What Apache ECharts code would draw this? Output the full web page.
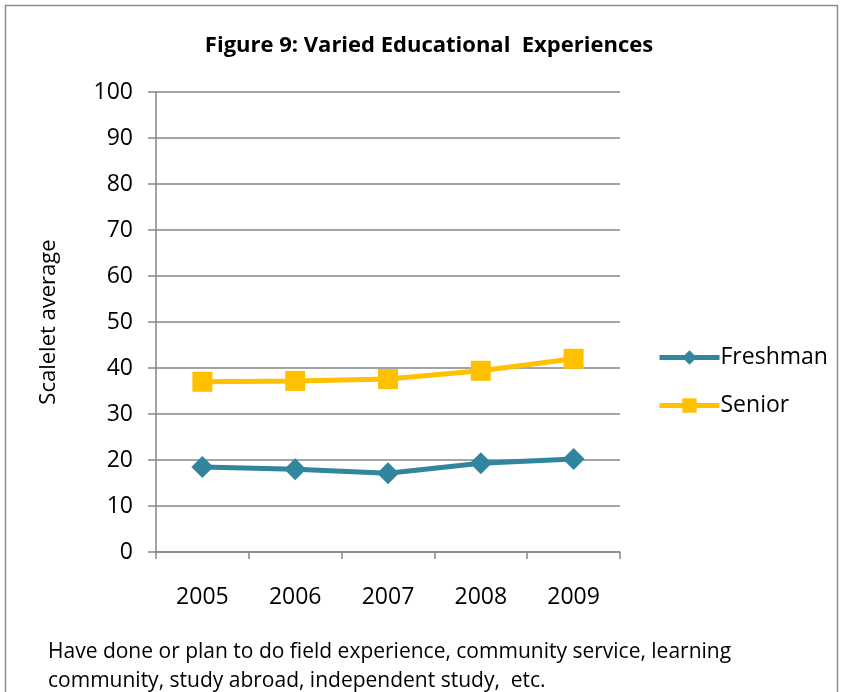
<!DOCTYPE html>
<html>
<head>
<meta charset="utf-8">
<script src="https://cdn.jsdelivr.net/npm/echarts@6/dist/echarts.min.js"></script>
<style>
  html, body { margin: 0; padding: 0; background: #fff; }
  #chart { width: 842px; height: 692px; }
</style>
</head>
<body>
<div id="chart"></div>
<script>
// data
const years = ['2005', '2006', '2007', '2008', '2009'];
const freshman = [18.5, 18.0, 17.1, 19.3, 20.2];
const senior = [37.0, 37.2, 37.6, 39.4, 42.0];
const yTicks = { min: 0, max: 100, step: 10 };

const font = '"Open Sans", sans-serif';
const gridColor = '#868686';

const chart = echarts.init(document.getElementById('chart'));
chart.setOption({
    animation: false,
    textStyle: { fontFamily: font },
    title: [
        {
            text: 'Figure 9: Varied Educational  Experiences',
            left: 424, top: 30, textAlign: 'center',
            textStyle: { fontSize: 22, fontWeight: 'bold', color: '#000', fontFamily: font }
        },
        {
            text: 'Have done or plan to do field experience, community service, learning\ncommunity, study abroad, independent study,  etc.',
            left: 43, top: 633,
            textStyle: { fontSize: 21, fontWeight: 'normal', color: '#000', lineHeight: 29, fontFamily: font }
        }
    ],
    graphic: [{
        type: 'rect',
        shape: { x: 5.5, y: 5.5, width: 832, height: 700 },
        style: { fill: 'none', stroke: '#8c8c8c', lineWidth: 1.5 },
        silent: true
    }],
    legend: {
        orient: 'vertical',
        left: 652, top: 341,
        itemWidth: 60, itemHeight: 18, itemGap: 25,
        lineStyle: { width: 5 },
        textStyle: { fontSize: 23, color: '#000', fontFamily: font, padding: [0, 0, 0, -4] },
        data: ['Freshman', 'Senior']
    },
    grid: { left: 156, right: 222, top: 92, bottom: 140 },
    xAxis: {
        type: 'category',
        data: years,
        boundaryGap: true,
        axisLine: { lineStyle: { color: gridColor, width: 1.5 } },
        axisTick: { show: true, length: 7, lineStyle: { color: gridColor, width: 1.5 } },
        axisLabel: { fontSize: 23, color: '#000', margin: 34, fontFamily: font }
    },
    yAxis: {
        type: 'value',
        min: yTicks.min, max: yTicks.max, interval: yTicks.step,
        name: 'Scalelet average',
        nameLocation: 'middle', nameRotate: 90, nameGap: 96,
        nameTextStyle: { fontSize: 22, color: '#000', fontFamily: font },
        axisLine: { show: true, lineStyle: { color: gridColor, width: 1.5 } },
        axisTick: { show: true, length: 8, lineStyle: { color: gridColor, width: 1.5 } },
        axisLabel: { fontSize: 23, color: '#000', margin: 23, fontFamily: font },
        splitLine: { lineStyle: { color: gridColor, width: 1.5 } }
    },
    series: [
        {
            name: 'Freshman', type: 'line', data: freshman,
            symbol: 'diamond', symbolSize: 22,
            itemStyle: { color: '#31859C' },
            lineStyle: { color: '#31859C', width: 5 }
        },
        {
            name: 'Senior', type: 'line', data: senior,
            symbol: 'rect', symbolSize: 20,
            itemStyle: { color: '#FFC000' },
            lineStyle: { color: '#FFC000', width: 5 }
        }
    ]
});
</script>
</body>
</html>
